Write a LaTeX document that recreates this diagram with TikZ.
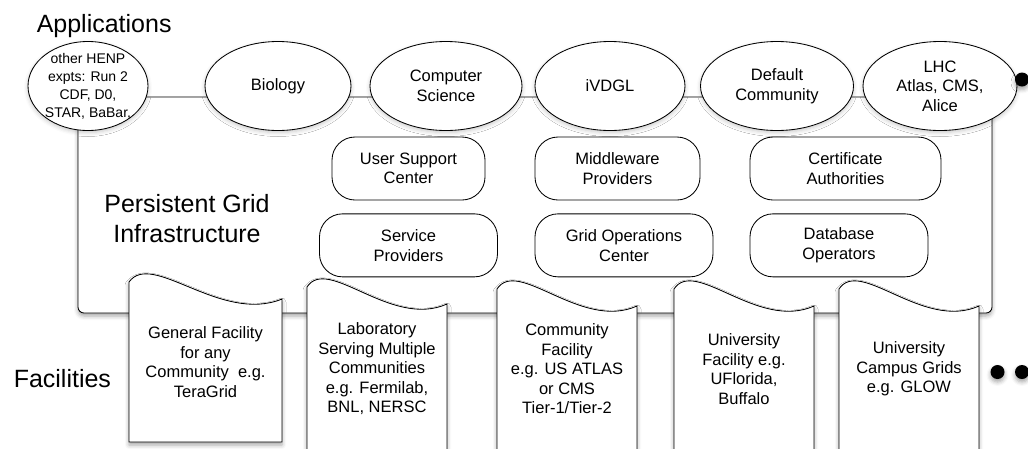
\documentclass[tikz,border=0pt]{standalone}
\usepackage{fontspec}
\setmainfont{Liberation Sans}
\usetikzlibrary{positioning, shapes.geometric, shadows.blur}

% facility sheet: name, left, right, top, bottom, text y, text
\newcommand\facility[7]{%
  \draw[sheet] (#2,#5) -- (#2,#4)
    .. controls ({#2+0.15*(#3-#2)},{#4-32}) and ({#2+0.6*(#3-#2)},{#4+42}) .. (#3,{#4+17})
    -- (#3,#5) -- cycle;
  \node[facility] (#1) at ({(#2+#3)/2},#6) {#7};
}

\begin{document}
\begin{tikzpicture}[
  x=1pt, y=-1pt, line width=0.85pt,
  every node/.style={font=\fontsize{16.5}{19.5}\selectfont},
  lift/.style={blur shadow={shadow xshift=0pt, shadow yshift=-3pt,
    shadow blur radius=4pt, shadow opacity=35}},
  heading/.style={font=\fontsize{25}{30}\selectfont, align=center},
  infra/.style={rectangle, draw, fill=white, rounded corners=6pt, lift},
  app/.style={ellipse, draw, fill=white, inner sep=0pt,
    minimum height=89pt, align=center,
    blur shadow={shadow xshift=0pt, shadow yshift=-2pt,
      shadow blur radius=4pt, shadow opacity=22}},
  svc/.style={rectangle, draw, fill=white, rounded corners=23pt,
    inner sep=0pt, minimum height=63pt, align=center},
  sheet/.style={draw, fill=white, lift},
  facility/.style={align=center},
  moredot/.style={circle, fill=black, inner sep=0pt, minimum size=14pt, lift},
]
  \useasboundingbox (0,0) rectangle (1028,448);

  % Grid infrastructure layer
  \node[infra, minimum width=914pt, minimum height=216pt] (pgi) at (535,205) {};
  \node[heading] (pgilabel) at (187,219) {Persistent Grid\\Infrastructure};

  % Applications
  \node[heading, anchor=base west] (apps) at (33,32) {Applications};
  \node[app, minimum width=120pt, inner sep=-8pt,
    font=\fontsize{14}{18}\selectfont] (henp) at (88,86)
    {other HENP\\expts: Run 2\\CDF, D0,\\STAR, BaBar,};
  \node[app, minimum width=146pt] (bio) at (278,86) {Biology};
  \node[app, minimum width=152pt] (cs) at (446,86) {Computer\\Science};
  \node[app, minimum width=150pt] (ivdgl) at (610,86) {iVDGL};
  \node[app, minimum width=153pt] (default) at (777,86) {Default\\Community};
  \node[app, minimum width=154pt] (lhc) at (940,86) {LHC\\Atlas, CMS,\\Alice};
  \node[moredot] (appsmore) at (1022,79.5) {};

  % Grid services
  \node[svc, minimum width=153pt] (usc) at (408.5,168.5) {User Support\\Center};
  \node[svc, minimum width=165pt] (mw) at (617.5,168.5) {Middleware\\Providers};
  \node[svc, minimum width=191pt] (ca) at (845.5,168.5) {Certificate\\Authorities};
  \node[svc, minimum width=178pt, below=13pt of usc] (sp) {Service\\Providers};
  \node[svc, minimum width=178pt, below=13pt of mw, xshift=6.5pt] (goc) {Grid Operations\\Center};
  \node[svc, minimum width=178pt, below=13pt of ca, xshift=-6.5pt] (dbo) {Database\\Operators};

  % Facilities
  \node[heading, anchor=base west] (facs) at (10,387) {Facilities};
  \facility{general}{129}{282}{282}{442}{362}{General Facility\\for any\\Community\ \ e.g.\\TeraGrid}
  \facility{lab}{307}{447}{287}{460}{369}{Laboratory\\Serving Multiple\\Communities\\e.g. Fermilab,\\BNL, NERSC}
  \facility{tier}{497}{637}{289}{460}{369}{Community\\Facility\\e.g. US ATLAS\\or CMS\\Tier-1/Tier-2}
  \facility{univ}{674}{814}{289}{460}{369}{University\\Facility e.g.\\UFlorida,\\Buffalo}
  \facility{campus}{839}{979}{289}{460}{369}{University\\Campus Grids\\e.g. GLOW}
  \node[moredot] (facsmore1) at (997.5,372) {};
  \node[moredot] (facsmore2) at (1022,372) {};

\end{tikzpicture}
\end{document}
